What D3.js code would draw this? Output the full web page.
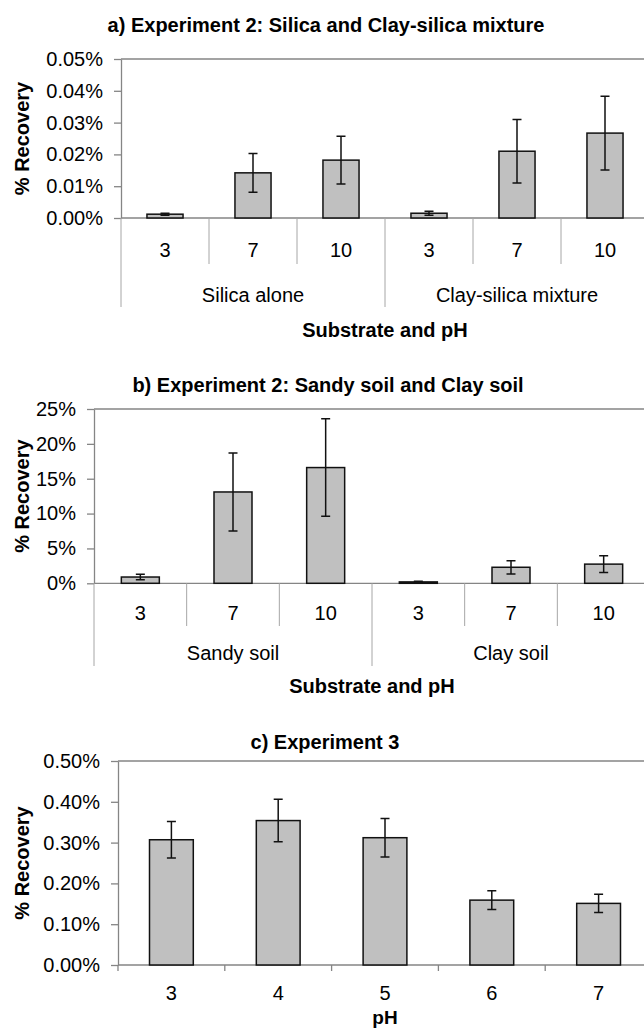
<!DOCTYPE html>
<html>
<head>
<meta charset="utf-8">
<script src="https://cdn.jsdelivr.net/npm/d3@7"></script>
<style>
  body { margin: 0; background: #ffffff; }
  text { font-family: 'Liberation Sans', Arial, sans-serif; fill: #000000; }
</style>
</head>
<body>
<div id="container"></div>
<script>
  // data (values in %)
  const phLevels = ['3', '7', '10']

  const groupsA = ['Silica alone', 'Clay-silica mixture']
  const recoveryA = [0.0012, 0.0142, 0.0182, 0.0015, 0.0210, 0.0267]
  const errorA = [0.0003, 0.0061, 0.0075, 0.0006, 0.0100, 0.0116]
  const ticksA = [0, 0.01, 0.02, 0.03, 0.04, 0.05]

  const groupsB = ['Sandy soil', 'Clay soil']
  const recoveryB = [0.9, 13.1, 16.6, 0.2, 2.3, 2.75]
  const errorB = [0.4, 5.6, 7.0, 0.1, 0.95, 1.2]
  const ticksB = [0, 5, 10, 15, 20, 25]

  const phC = ['3', '4', '5', '6', '7']
  const recoveryC = [0.307, 0.354, 0.312, 0.159, 0.151]
  const errorC = [0.045, 0.052, 0.047, 0.023, 0.0225]
  const ticksC = [0, 0.1, 0.2, 0.3, 0.4, 0.5]

  //initial setup
  const width = 644
  const height = 1030
  const axisGrey = '#858585'
  const sepGrey = '#a6a6a6'
  const barFill = '#c0c0c0'
  const fontSize = 20

  const svg = d3.select('#container')
    .append('svg')
    .attr('width', width)
    .attr('height', height)
    .style('background', '#ffffff')

  function drawPanel(p) {
    const n = p.values.length
    const x = d3.scaleBand()
      .domain(d3.range(n))
      .range([p.left, p.right])
      .paddingInner(0.59)
      .paddingOuter(0.295)
    const y = d3.scaleLinear()
      .domain([0, d3.max(p.ticks)])
      .range([p.bottom, p.top])
    const step = x.step()
    const bw = x.bandwidth()
    const boundary = (i) => p.left + i * step

    const g = svg.append('g')

    // plot area border (top + right)
    g.append('path')
      .attr('d', `M${p.left},${p.top}H${p.right}V${p.bottom}`)
      .attr('fill', 'none')
      .attr('stroke', axisGrey)
      .attr('stroke-width', 1.3)

    // y axis
    const yAxis = g.append('g')
      .attr('transform', `translate(${p.left},0)`)
      .call(d3.axisLeft(y)
        .tickValues(p.ticks)
        .tickFormat(p.format)
        .tickSize(7)
        .tickSizeOuter(0)
        .tickPadding(11))
      .attr('font-family', null)
      .attr('font-size', null)
    yAxis.select('.domain').attr('stroke', axisGrey).attr('stroke-width', 1.3)
    yAxis.selectAll('.tick line').attr('stroke', axisGrey).attr('stroke-width', 1.3)
    yAxis.selectAll('.tick text').attr('font-size', fontSize).attr('fill', '#000')

    // x axis line at zero
    g.append('line')
      .attr('x1', p.left).attr('x2', p.right)
      .attr('y1', y(0)).attr('y2', y(0))
      .attr('stroke', axisGrey)
      .attr('stroke-width', 1.3)

    // category labels
    const xAxis = g.append('g')
      .attr('transform', `translate(0,${p.catY})`)
      .call(d3.axisBottom(x)
        .tickFormat((i) => p.labels[i % p.labels.length])
        .tickSize(0)
        .tickPadding(0))
      .attr('font-family', null)
      .attr('font-size', null)
    xAxis.select('.domain').remove()
    xAxis.selectAll('.tick text')
      .attr('font-size', fontSize)
      .attr('fill', '#000')
      .attr('y', 0)
      .attr('dy', '0.35em')

    if (p.groups) {
      const per = p.labels.length
      // separators between categories, longer ones between groups
      g.selectAll('.sep')
        .data(d3.range(n + 1))
        .enter()
        .append('line')
        .attr('x1', (i) => boundary(i))
        .attr('x2', (i) => boundary(i))
        .attr('y1', y(0))
        .attr('y2', (i) => i % per === 0 ? p.groupLineEnd : p.catLineEnd)
        .attr('stroke', sepGrey)
        .attr('stroke-width', 1)

      g.selectAll('.group')
        .data(p.groups)
        .enter()
        .append('text')
        .attr('x', (d, k) => (boundary(k * per) + boundary((k + 1) * per)) / 2)
        .attr('y', p.groupY)
        .attr('dy', '0.35em')
        .attr('text-anchor', 'middle')
        .attr('font-size', fontSize)
        .text((d) => d)
    } else {
      g.selectAll('.tickmark')
        .data(d3.range(n + 1))
        .enter()
        .append('line')
        .attr('x1', (i) => boundary(i))
        .attr('x2', (i) => boundary(i))
        .attr('y1', y(0))
        .attr('y2', y(0) + 6)
        .attr('stroke', axisGrey)
        .attr('stroke-width', 1.3)
    }

    // bars
    const barGroups = g.selectAll('.barg')
      .data(p.values.map((v, i) => ({ i: i, v: v, e: p.errors[i] })))
      .enter()
      .append('g')

    barGroups
      .append('rect')
      .attr('x', (d) => x(d.i))
      .attr('y', (d) => y(d.v))
      .attr('width', bw)
      .attr('height', (d) => y(0) - y(d.v))
      .attr('fill', barFill)
      .attr('stroke', '#111')
      .attr('stroke-width', 1.5)

    // error bars
    const cx = (d) => x(d.i) + bw / 2
    barGroups
      .append('path')
      .attr('d', (d) => {
        const t = y(d.v + d.e)
        const b = y(Math.max(0, d.v - d.e))
        return `M${cx(d)},${t}V${b}M${cx(d) - 4.5},${t}H${cx(d) + 4.5}M${cx(d) - 4.5},${b}H${cx(d) + 4.5}`
      })
      .attr('fill', 'none')
      .attr('stroke', '#111')
      .attr('stroke-width', 1.5)

    // titles
    g.append('text')
      .attr('x', p.titleX)
      .attr('y', p.titleY)
      .attr('dy', '0.35em')
      .attr('text-anchor', 'middle')
      .attr('font-size', fontSize)
      .attr('font-weight', 'bold')
      .text(p.title)

    g.append('text')
      .attr('x', (p.left + p.right) / 2)
      .attr('y', p.xTitleY)
      .attr('dy', '0.35em')
      .attr('text-anchor', 'middle')
      .attr('font-size', p.xTitleSize || fontSize)
      .attr('font-weight', 'bold')
      .text(p.xTitle)

    g.append('text')
      .attr('transform', `translate(22,${(p.top + p.bottom) / 2}) rotate(-90)`)
      .attr('dy', '0.35em')
      .attr('text-anchor', 'middle')
      .attr('font-size', fontSize)
      .attr('font-weight', 'bold')
      .text('% Recovery')
  }

  drawPanel({
    values: recoveryA, errors: errorA, ticks: ticksA,
    format: (d) => d.toFixed(2) + '%',
    labels: phLevels, groups: groupsA,
    left: 121, right: 649, top: 59, bottom: 218,
    catY: 250, catLineEnd: 264, groupLineEnd: 307, groupY: 295,
    xTitleY: 330, xTitle: 'Substrate and pH',
    titleX: 326, titleY: 25, title: 'a) Experiment 2: Silica and Clay-silica mixture'
  })

  drawPanel({
    values: recoveryB, errors: errorB, ticks: ticksB,
    format: (d) => d + '%',
    labels: phLevels, groups: groupsB,
    left: 94, right: 650, top: 409, bottom: 583.3,
    catY: 613, catLineEnd: 626, groupLineEnd: 666, groupY: 653,
    xTitleY: 686, xTitle: 'Substrate and pH',
    titleX: 328, titleY: 385, title: 'b) Experiment 2: Sandy soil and Clay soil'
  })

  drawPanel({
    values: recoveryC, errors: errorC, ticks: ticksC,
    format: (d) => d.toFixed(2) + '%',
    labels: phC, groups: null,
    left: 118, right: 652, top: 761, bottom: 965,
    catY: 993,
    xTitleY: 1017, xTitle: 'pH', xTitleSize: 19,
    titleX: 325, titleY: 742, title: 'c) Experiment 3'
  })
</script>
</body>
</html>
